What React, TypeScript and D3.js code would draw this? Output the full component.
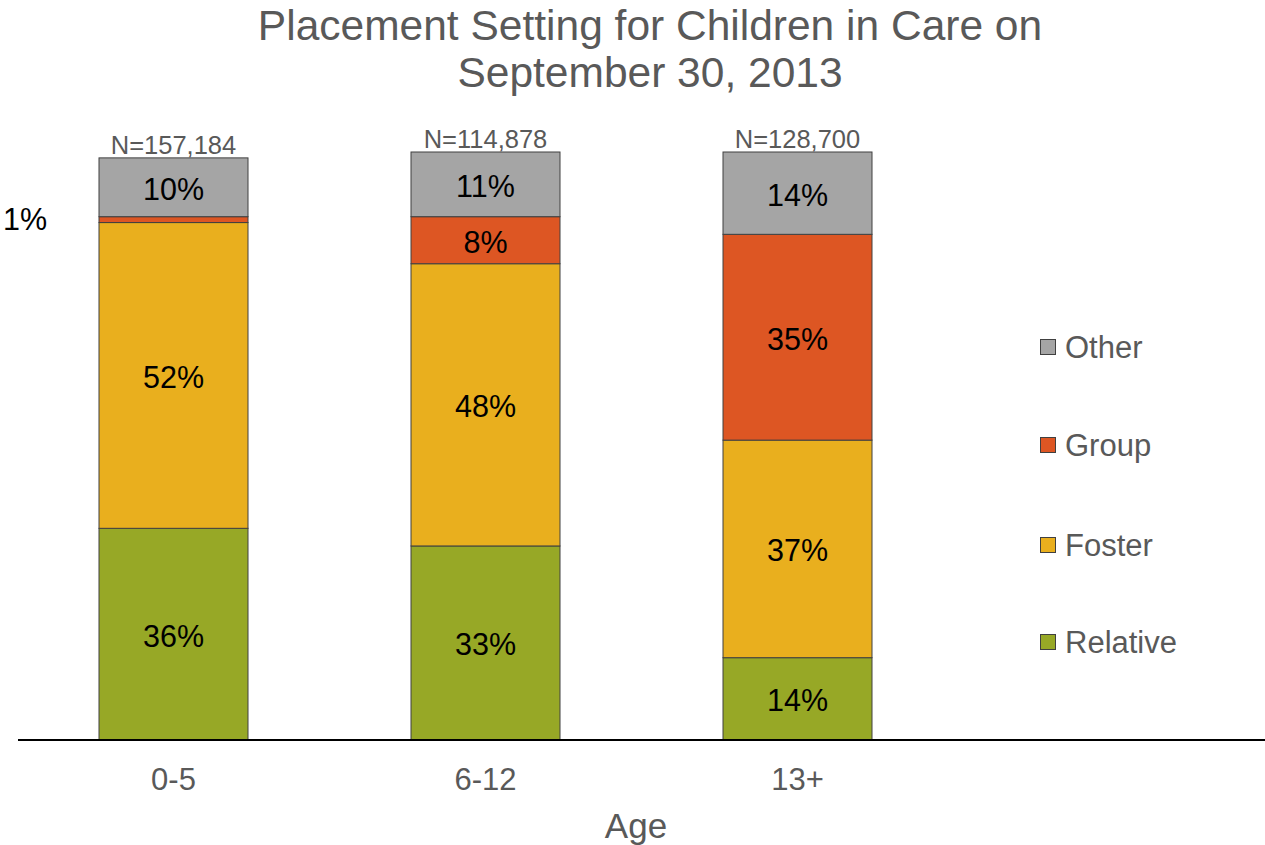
import React from "react";
import * as d3 from "d3";

const ageGroups = ["0-5", "6-12", "13+"];
const totals = ["N=157,184", "N=114,878", "N=128,700"];
const seriesNames = ["Relative", "Foster", "Group", "Other"];
const relative = [36, 33, 14];
const foster = [52, 48, 37];
const group = [1, 8, 35];
const other = [10, 11, 14];
const seriesColors = ["#97A826", "#E9AF1E", "#DD5623", "#A5A5A5"];

const W = 1265;
const H = 845;
const FONT = "'Liberation Sans', Arial, sans-serif";

export default function App() {
  const values = [relative, foster, group, other];
  const rows = ageGroups.map((g, i) => {
    const row: Record<string, any> = { age: g };
    seriesNames.forEach((s, k) => (row[s] = values[k][i]));
    return row;
  });
  const stacked = d3.stack<any>().keys(seriesNames)(rows);

  const x = d3.scalePoint<string>().domain(ageGroups).range([173.5, 797.5]);
  const barW = 149;
  const y = d3.scaleLinear().domain([0, 100]).range([740, 152]);

  const legendY = [642, 545, 445, 347];

  return (
    <svg
      width={W}
      height={H}
      style={{ position: "absolute", left: 0, top: 0, background: "#fff" }}
      fontFamily={FONT}
    >
      <text x={650} y={40} textAnchor="middle" fontSize={42.5} fill="#595959">
        Placement Setting for Children in Care on
      </text>
      <text x={650} y={87} textAnchor="middle" fontSize={42.5} fill="#595959">
        September 30, 2013
      </text>

      {stacked.map((layer, k) => (
        <g key={layer.key}>
          {layer.map((d, i) => (
            <rect
              key={i}
              x={(x(ageGroups[i]) as number) - barW / 2}
              y={y(d[1])}
              width={barW}
              height={y(d[0]) - y(d[1])}
              fill={seriesColors[k]}
              stroke="#404040"
              strokeWidth={1}
            />
          ))}
        </g>
      ))}

      {stacked.map((layer) =>
        layer.map((d, i) => {
          const v = d[1] - d[0];
          const cx = x(ageGroups[i]) as number;
          const cy = (y(d[0]) + y(d[1])) / 2;
          // thin segments get their label outside, to the left of the bar
          const small = v < 3;
          return (
            <text
              key={layer.key + i}
              x={small ? cx - barW / 2 - 52 : cx}
              y={cy}
              dy={small ? "0.35em" : "0.41em"}
              textAnchor={small ? "end" : "middle"}
              fontSize={30.5}
              fill="#000"
            >
              {v}%
            </text>
          );
        })
      )}

      {ageGroups.map((g, i) => (
        <text
          key={g}
          x={x(g) as number}
          y={y(d3.sum(values, (s) => s[i])) - 4}
          textAnchor="middle"
          fontSize={25.5}
          fill="#595959"
        >
          {totals[i]}
        </text>
      ))}

      <line x1={18} x2={W} y1={740} y2={740} stroke="#000" strokeWidth={2} />

      {ageGroups.map((g) => (
        <text key={g} x={x(g) as number} y={790} textAnchor="middle" fontSize={31} fill="#595959">
          {g}
        </text>
      ))}
      <text x={636} y={838} textAnchor="middle" fontSize={35} fill="#595959">
        Age
      </text>

      {seriesNames.map((s, k) => (
        <g key={s}>
          <rect
            x={1040.5}
            y={legendY[k] - 7.5}
            width={15}
            height={15}
            fill={seriesColors[k]}
            stroke="#404040"
            strokeWidth={1}
          />
          <text x={1065} y={legendY[k]} dy="0.35em" fontSize={31} fill="#595959">
            {s}
          </text>
        </g>
      ))}
    </svg>
  );
}
